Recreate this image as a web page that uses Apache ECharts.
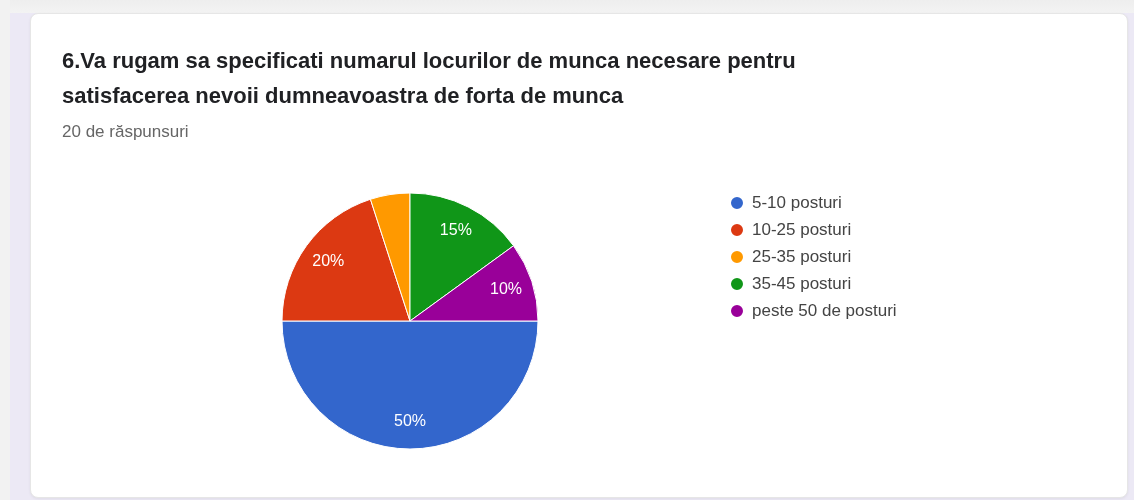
<!DOCTYPE html>
<html>
<head>
<meta charset="utf-8">
<script src="https://cdn.jsdelivr.net/npm/echarts@6/dist/echarts.min.js"></script>
<style>
  html, body { margin: 0; padding: 0; }
  body { width: 1134px; height: 500px; background: #ece9f5; position: relative; overflow: hidden; }
  .top_strip { position: absolute; left: 0; top: 0; width: 1134px; height: 13px; background: linear-gradient(#eeeeee, #f3f3f3); }
  .left_strip { position: absolute; left: 0; top: 0; width: 10px; height: 500px; background: #f2f2f2; }
  .card { position: absolute; left: 30px; top: 13px; width: 1096px; height: 483px; background: #fff;
          border: 1px solid #e6e6e6; border-radius: 8px; box-shadow: 0 1px 3px rgba(0,0,0,0.06); }
  #chart { position: absolute; left: 0; top: 0; width: 1134px; height: 500px; }
</style>
</head>
<body>
<div class="top_strip"></div>
<div class="left_strip"></div>
<div class="card"></div>
<div id="chart"></div>
<script>
// raspunsuri (%)
const categories = ["5-10 posturi", "10-25 posturi", "25-35 posturi", "35-45 posturi", "peste 50 de posturi"];
const values = [50, 20, 5, 15, 10];
const colors = ["#3366cc", "#dc3912", "#ff9900", "#109618", "#990099"];
const titleText = "6.Va rugam sa specificati numarul locurilor de munca necesare pentru\nsatisfacerea nevoii dumneavoastra de forta de munca";
const subText = "20 de răspunsuri";

const pieData = categories.map((name, i) => ({ name: name, value: values[i] }));

const chart = echarts.init(document.getElementById("chart"), null, { renderer: "canvas" });
window.addEventListener("resize", () => chart.resize());

const option = {
  animation: false,
  color: colors,
  title: {
    text: titleText,
    subtext: subText,
    left: 57,
    top: 39,
    itemGap: 10,
    textStyle: {
      fontFamily: "Liberation Sans",
      fontSize: 22,
      fontWeight: "bold",
      color: "#202124",
      lineHeight: 35,
    },
    subtextStyle: {
      fontFamily: "Liberation Sans",
      fontSize: 17,
      color: "#666",
    },
  },
  legend: {
    orient: "vertical",
    left: 724,
    top: 189,
    icon: "circle",
    itemWidth: 14,
    itemHeight: 14,
    itemGap: 9,
    data: categories,
    textStyle: {
      fontFamily: "Liberation Sans",
      fontSize: 17,
      lineHeight: 18,
      color: "#444",
      padding: [0, 0, 0, 3],
    },
  },
  series: [
    {
      name: "locuri",
      type: "pie",
      center: [410, 321],
      radius: [0, 128],
      startAngle: 0,
      clockwise: true,
      silent: true,
      itemStyle: { borderColor: "#fff", borderWidth: 1 },
      label: { show: false },
      labelLine: { show: false },
      data: pieData,
    },
    {
      // only carries the % labels, placed further out like the original
      name: "etichete",
      type: "pie",
      center: [410, 321],
      radius: [68, 128],
      startAngle: 0,
      clockwise: true,
      silent: true,
      itemStyle: { color: "transparent" },
      label: {
        show: true,
        position: "inside",
        fontFamily: "Liberation Sans",
        fontSize: 16,
        color: "#fff",
        formatter: (p) => (p.value >= 10 ? p.value + "%" : ""),
      },
      labelLine: { show: false },
      data: pieData,
    },
  ],
};

chart.setOption(option);
</script>
</body>
</html>
